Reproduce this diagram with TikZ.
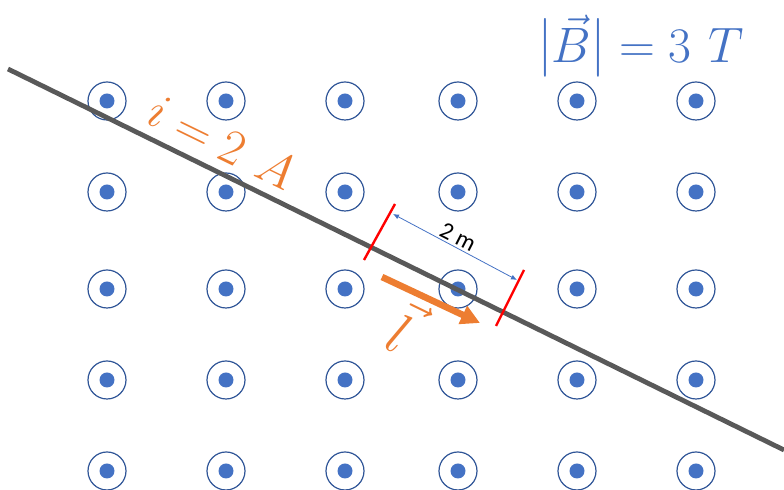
\documentclass[tikz,border=0pt]{standalone}
\usepackage{graphicx}
\usepackage{fontspec}
\usetikzlibrary{arrows.meta}
\newfontfamily\calibrifont{Carlito}
\definecolor{fieldblue}{HTML}{4472C4}
\definecolor{ringblue}{HTML}{2F5597}
\definecolor{wiregray}{HTML}{595959}
\definecolor{currentorange}{HTML}{ED7D31}
\newcommand{\tallbar}{\scalebox{1}[1.18]{$|$}}

\begin{document}
\begin{tikzpicture}[x=0.5pt,y=-0.5pt,
  ring/.style={draw=ringblue,line width=0.6pt},
  wire/.style={draw=wiregray,line width=2.4pt},
  redmark/.style={draw=red,line width=1.2pt},
  biglabel/.style={font=\fontsize{29}{33}\selectfont}]

\useasboundingbox (0,0) rectangle (784,490);

% Field pointing out of the page
\foreach \x in {107,226,345,458,577,696}
  \foreach \y in {101,192,289,380,471}{
    \draw[ring] (\x,\y) circle (19);
    \fill[fieldblue] (\x,\y) circle (7.5);
  }

% Wire
\coordinate (wireL) at (8,69);
\coordinate (wireR) at (784,450);
\draw[wire] (wireL)--(wireR);

% Length marks
\coordinate (markAtop) at (395,204);
\coordinate (markAbot) at (364,260);
\coordinate (markBtop) at (524,270);
\coordinate (markBbot) at (496,326);
\draw[redmark] (markAtop)--(markAbot);
\draw[redmark] (markBtop)--(markBbot);

% Length arrow
\coordinate (lenL) at (393,214);
\coordinate (lenR) at (517,280);
\draw[fieldblue,line width=0.4pt,{Latex[length=3pt,width=2.5pt]}-{Latex[length=3pt,width=2.5pt]}]
(lenL)--(lenR);
\node[rotate=-27,font=\calibrifont\fontsize{12}{14}\selectfont] (lenlabel) at (458,237) {2 m};

% Current direction
\coordinate (curL) at (382,277);
\coordinate (curR) at (480,323);
\draw[currentorange,line width=3.3pt,-{Triangle[length=9.5pt,width=9.5pt]}] (curL)--(curR);

% Labels
\node[biglabel,text=currentorange,rotate=-26] (current) at (222,142) {$i = 2\ A$};
\node[biglabel,text=currentorange,rotate=-26,scale=1.15] (veclabel) at (403,326) {$\vec{l}$};
\node[biglabel,text=fieldblue,font=\fontsize{28}{32}\selectfont] (field) at (641,46) {$\tallbar\vec{B}\tallbar = 3\ T$};

\end{tikzpicture}
\end{document}
